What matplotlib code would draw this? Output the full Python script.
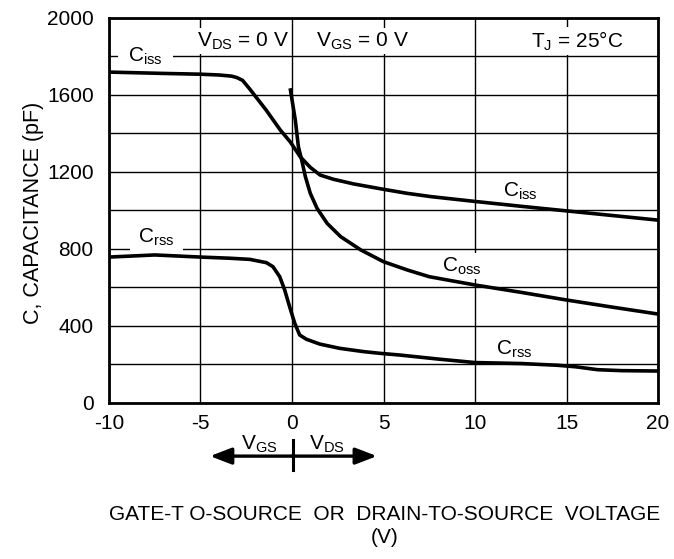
import numpy as np
import matplotlib
matplotlib.use('Agg')
import matplotlib.pyplot as plt
import matplotlib.transforms as mtransforms

plt.rcParams['font.family'] = ['Liberation Sans', 'DejaVu Sans']
plt.rcParams['mathtext.fontset'] = 'custom'
plt.rcParams['mathtext.rm'] = 'Liberation Sans'
plt.rcParams['axes.unicode_minus'] = False

# ---------------- data ----------------
ciss_v = [-10, -7, -5, -4, -3.3, -3, -2.7, -2.3, -1.4, -0.64, -0.1, 0.45, 1.0, 1.54,
          2.27, 3.37, 5.0, 6.3, 7.6, 10, 12.5, 15, 17.5, 20]
ciss_c = [1719, 1712, 1708, 1704, 1698, 1690, 1676, 1630, 1520, 1418, 1357, 1279, 1224, 1184,
          1162, 1138, 1110, 1089, 1072, 1047, 1022, 998, 974, 950]

coss_v = [-0.1, 0.18, 0.35, 0.53, 0.73, 1.0, 1.37, 1.92, 2.66, 3.76, 5.0, 6.3, 7.5,
          10, 12.5, 15, 17.5, 20]
coss_c = [1635, 1470, 1331, 1262, 1176, 1089, 1011, 933, 864, 795, 734, 691, 656,
          613, 575, 535, 498, 462]

crss_v = [-10, -7.5, -5, -3.4, -2.3, -1.4, -1.04, -0.67, -0.4, -0.13, 0.15, 0.42, 0.79,
          1.52, 2.6, 3.9, 4.8, 5.9, 8, 10, 12.5, 14.5, 15.5, 16.7, 18, 20]
crss_c = [758, 769, 758, 752, 746, 729, 708, 656, 587, 500, 414, 353, 331,
          306, 284, 267, 258, 249, 228, 210, 205, 196, 188, 173, 168, 166]

x_ticks = [-10, -5, 0, 5, 10, 15, 20]
y_ticks = [0, 400, 800, 1200, 1600, 2000]
y_grid = np.arange(0, 2001, 200)


fig = plt.figure(figsize=(6.74, 5.59), dpi=100)
ax = fig.add_axes([0.1617, 0.2791, 0.8146, 0.6887])

ax.set_xlim(-10, 20)
ax.set_ylim(0, 2000)
ax.set_xticks(x_ticks)
ax.set_yticks(y_ticks)
ax.set_yticks(y_grid, minor=True)
ax.tick_params(which='both', length=0, labelsize=15, colors='black')
ax.tick_params(axis='x', pad=8)
ax.tick_params(axis='y', pad=11)
ax.grid(True, which='both', color='black', lw=1.0, zorder=0)
for s in ax.spines.values():
    s.set_linewidth(2.0)
    s.set_zorder(6)

lw = 2.6
for v, c in [(ciss_v, ciss_c), (coss_v, coss_c), (crss_v, crss_c)]:
    ax.plot(v, c, color='black', lw=lw, zorder=5, solid_capstyle='butt',
            solid_joinstyle='round')

fs = 15
box = dict(facecolor='white', edgecolor='none', pad=1.5)
ax.text(-8.0, 1800, r'C$_{\mathregular{iss}}$', fontsize=fs, ha='center', va='center',
        bbox=dict(facecolor='white', edgecolor='none', pad=7), zorder=4)
ax.text(-7.4, 860, r'C$_{\mathregular{rss}}$', fontsize=fs, ha='center', va='center',
        bbox=dict(facecolor='white', edgecolor='none', pad=6), zorder=4)
ax.text(12.46, 1100, r'C$_{\mathregular{iss}}$', fontsize=fs, ha='center', va='center', zorder=4)
ax.text(9.3, 712, r'C$_{\mathregular{oss}}$', fontsize=fs, ha='center', va='center',
        bbox=box, zorder=4)
ax.text(12.13, 282, r'C$_{\mathregular{rss}}$', fontsize=fs, ha='center', va='center', zorder=4)

ax.text(-2.68, 1880, r'V$_{\mathregular{DS}}$ = 0 V', fontsize=fs, ha='center', va='center',
        bbox=box, zorder=4)
ax.text(3.83, 1880, r'V$_{\mathregular{GS}}$ = 0 V', fontsize=fs, ha='center', va='center',
        bbox=box, zorder=4)
ax.text(15.6, 1880, r'T$_{\mathregular{J}}$ = 25$\mathregular{\degree}$C', fontsize=fs,
        ha='center', va='center', bbox=box, zorder=4)

# VGS / VDS arrow under the axis
trans = mtransforms.blended_transform_factory(ax.transData, ax.transAxes)
arrow = dict(arrowstyle='-|>,head_length=0.65,head_width=0.25', lw=2.4, color='black',
             mutation_scale=20, shrinkA=0, shrinkB=0)
ax.annotate('', xy=(-4.48, -0.138), xytext=(0, -0.138), xycoords=trans,
            textcoords=trans, arrowprops=arrow, annotation_clip=False)
ax.annotate('', xy=(4.64, -0.138), xytext=(0, -0.138), xycoords=trans,
            textcoords=trans, arrowprops=arrow, annotation_clip=False)
ax.plot([0.05, 0.05], [-0.096, -0.174], color='black', lw=2.2, transform=trans, clip_on=False)
ax.text(-1.8, -0.108, r'V$_{\mathregular{GS}}$', fontsize=fs, ha='center', va='center',
        transform=trans)
ax.text(1.9, -0.108, r'V$_{\mathregular{DS}}$', fontsize=fs, ha='center', va='center',
        transform=trans)

fig.text(0.570, 0.059, 'GATE-T O-SOURCE  OR  DRAIN-TO-SOURCE  VOLTAGE\n(V)',
         fontsize=15, ha='center', va='center', linespacing=1.25)
ax.set_ylabel('C, CAPACITANCE (pF)', fontsize=15.5, va='center')
ax.yaxis.set_label_coords(-0.138, 0.494)

fig.savefig('out.png', dpi=100)
